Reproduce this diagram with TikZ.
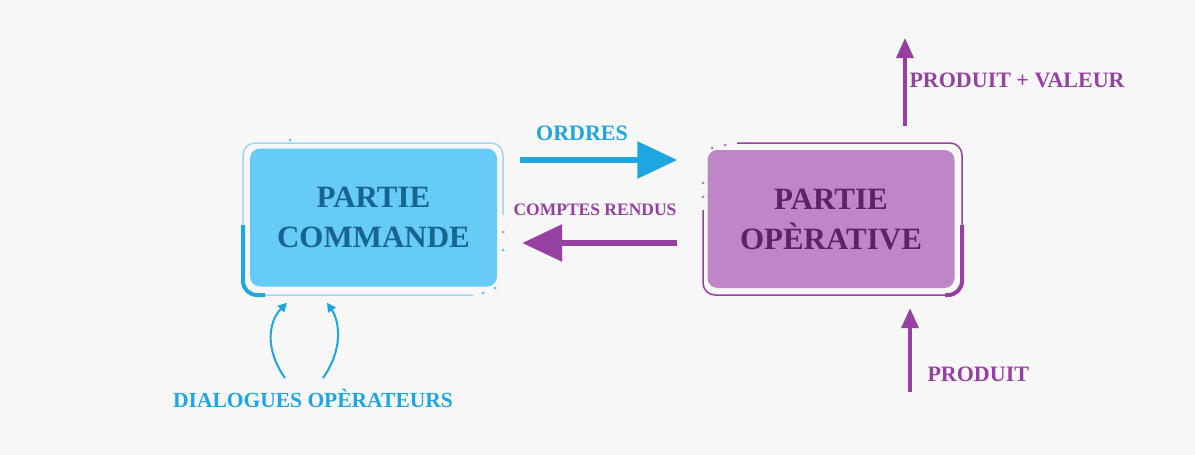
\documentclass[tikz,border=0pt]{standalone}
\usepackage{fontspec}
\setmainfont{Liberation Serif}
\usetikzlibrary{arrows.meta,calc}

\definecolor{fond}{RGB}{247,247,247}
\definecolor{bleu}{RGB}{102,203,246}
\definecolor{bleufonce}{RGB}{22,100,145}
\definecolor{bleuvif}{RGB}{30,166,224}
\definecolor{bleucadre}{RGB}{160,215,240}
\definecolor{mauve}{RGB}{191,134,199}
\definecolor{mauvefonce}{RGB}{92,34,98}
\definecolor{mauvevif}{RGB}{150,64,162}

\begin{document}
\begin{tikzpicture}[x=1pt,y=-1pt,
	boite/.style={rounded corners=10pt,minimum width=247pt,minimum height=138pt,align=center,
		font=\bfseries\fontsize{31}{40}\selectfont},
	etiquette/.style={font=\bfseries\fontsize{22}{26}\selectfont},
	grosfleche/.style={line width=6pt,-{Triangle[length=40pt,width=36pt]}},
	fleche/.style={line width=3.5pt,-{Triangle[length=20pt,width=17pt]}},
	courbe/.style={line width=2pt,bleuvif,-{Triangle[length=9pt,width=9pt]}}]
	\fill[fond] (0,0) rectangle (1195,455);
	% les deux parties
	\node[boite,fill=bleu,text=bleufonce] (cmd) at (373.5,217.5) {PARTIE\\COMMANDE};
	\node[boite,fill=mauve,text=mauvefonce] (op) at (831,219) {PARTIE\\OP\`ERATIVE};
	% cadres
	\draw[bleucadre,line width=1.5pt,rounded corners=12pt] (473,295) -- (243,295) -- (243,143) -- (503,143) -- (503,215);
	\draw[bleuvif,line width=4pt,rounded corners=14pt] (243,225) -- (243,295) -- (265,295);
	\draw[mauvevif,line width=1.5pt,rounded corners=12pt] (737,143) -- (962,143) -- (962,295) -- (703,295) -- (703,210);
	\draw[mauvevif,line width=4pt,rounded corners=14pt] (962,225) -- (962,295) -- (945,295);
	\foreach \x/\y in {503/232,503/250,495/288,483/293,290/140}
		\fill[bleuvif!70] (\x,\y) circle (1.5pt);
	\foreach \x/\y in {712/148,725/145,703/183,703/197}
		\fill[mauvevif!70] (\x,\y) circle (1.5pt);
	% ordres et comptes rendus
	\node[etiquette,text=bleuvif] (ordres) at (582,133) {ORDRES};
	\node[etiquette,text=mauvevif,font=\bfseries\fontsize{17.5}{20}\selectfont] (comptes) at (595,210) {COMPTES RENDUS};
	\draw[grosfleche,bleuvif] ($(cmd.east)+(23,-57.5)$) -- ($(op.west)+(-30,-59)$);
	\draw[grosfleche,mauvevif] ($(op.west)+(-30,24)$) -- ($(cmd.east)+(25,25.5)$);
	% produit
	\coordinate (sortie) at (905,38);
	\coordinate (entree) at (910,392);
	\node[etiquette,text=mauvevif,anchor=west] (valeur) at (906,80) {PRODUIT + VALEUR};
	\node[etiquette,text=mauvevif,anchor=west] (produit) at (924,374) {PRODUIT};
	\draw[fleche,mauvevif] ($(op.north)+(74,-24)$) -- (sortie);
	\draw[fleche,mauvevif] (entree) -- ($(op.south)+(79,20)$);
	% dialogues
	\node[etiquette,text=bleuvif,font=\bfseries\fontsize{21.5}{25}\selectfont] (dialogues) at (313,398) {DIALOGUES OP\`ERATEURS};
	\draw[courbe] ($(dialogues.center)+(-28,-20)$) .. controls (265,350) and (268,322) .. ($(cmd.south)+(-86.5,16)$);
	\draw[courbe] ($(dialogues.center)+(10,-20)$) .. controls (343,350) and (340,322) .. ($(cmd.south)+(-46.5,16)$);
\end{tikzpicture}
\end{document}
